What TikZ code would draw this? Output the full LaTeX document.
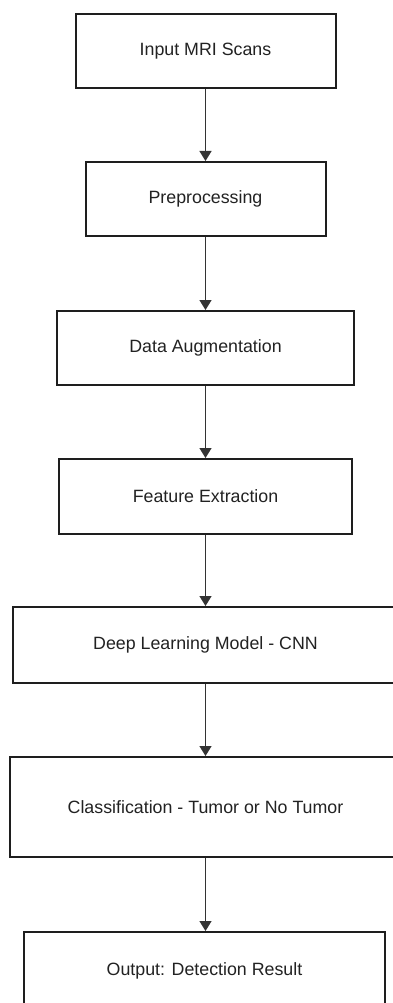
\documentclass[tikz,border=0pt]{standalone}
\usepackage{fontspec}
\setmainfont{Liberation Sans}
\usetikzlibrary{arrows.meta}
\definecolor{boxline}{HTML}{1E1E1E}
\definecolor{arrline}{HTML}{333333}
\definecolor{txt}{HTML}{222222}
\tikzset{
  stepbox/.style={draw=boxline, line width=2pt, fill=white, text=txt,
    font=\fontsize{17.8}{20}\selectfont, inner sep=0pt},
  arr/.style={draw=arrline, line width=1.3pt,
    -{Triangle[width=12pt,length=10pt]}}
}
\begin{document}
\begin{tikzpicture}[x=1pt,y=-1pt]
\path[use as bounding box, fill=white] (0,0) rectangle (393,1003);
\node[stepbox, minimum width=260pt, minimum height=74pt] (b1) at (205.5,51) {Input MRI Scans};
\node[stepbox, minimum width=240pt, minimum height=74pt] (b2) at (205.5,199) {Preprocessing};
\node[stepbox, minimum width=297pt, minimum height=74pt] (b3) at (205.5,348) {Data Augmentation};
\node[stepbox, minimum width=293pt, minimum height=75pt] (b4) at (205.5,496.5) {Feature Extraction};
\node[stepbox, minimum width=388pt, minimum height=76pt] (b5) at (207,645) {\makebox[0pt]{\hspace{-3pt}Deep Learning Model - CNN}};
\node[stepbox, minimum width=394pt, minimum height=100pt] (b6) at (207,807) {\makebox[0pt]{\hspace{-3pt}Classification - Tumor or No Tumor}};
\node[stepbox, minimum width=361pt, minimum height=78pt] (b7) at (204.5,971) {Output: Detection Result};
\draw[arr] (b1.south) -- (b2.north);
\draw[arr] (b2.south) -- (b3.north);
\draw[arr] (b3.south) -- (b4.north);
\draw[arr] (b4.south) -- (b5.north -| b4.south);
\draw[arr] (b5.south -| b4.south) -- (b6.north -| b4.south);
\draw[arr] (b6.south -| b4.south) -- (b7.north -| b4.south);
\end{tikzpicture}
\end{document}
